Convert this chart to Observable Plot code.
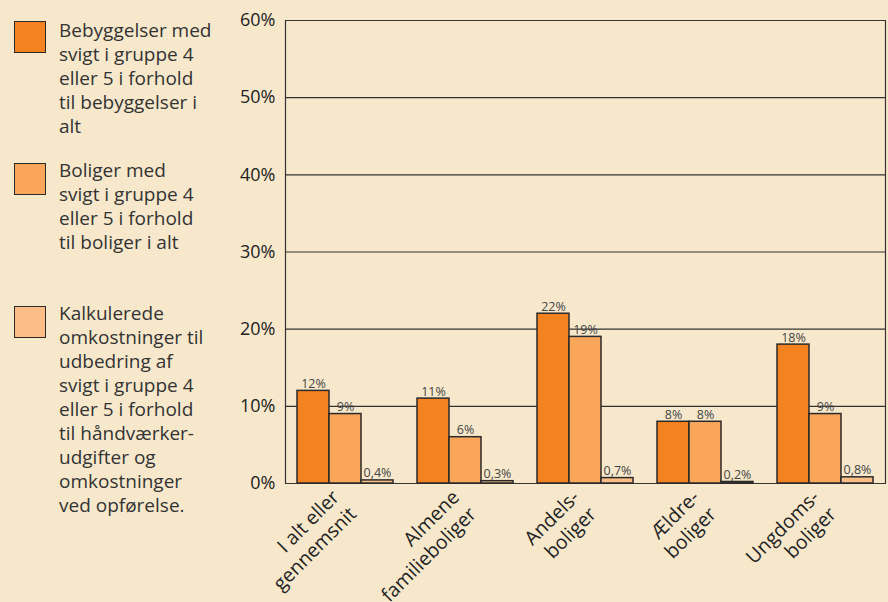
<!DOCTYPE html>
<html><head><meta charset="utf-8">
<script src="https://cdn.jsdelivr.net/npm/d3@7"></script>
<script src="https://cdn.jsdelivr.net/npm/@observablehq/plot@0.6"></script>
<style>
html,body{margin:0;padding:0;background:#F7E8CC;}
#wrap{position:relative;width:888px;height:602px;overflow:hidden;font-family:"Open Sans",sans-serif;color:#333;}
#chart{position:absolute;left:0;top:0;}
.item{position:absolute;left:14px;}
.sw{position:absolute;left:0;width:32px;height:32px;border:1.5px solid #2a2a2a;box-sizing:border-box;}
.lt{position:absolute;left:45px;top:0;font-size:19px;line-height:24px;white-space:nowrap;color:#333;}
</style>
</head><body>
<div id="wrap"><div id="chart"></div></div>
<script>
const categories = ["I alt eller\ngennemsnit", "Almene\nfamilieboliger", "Andels-\nboliger", "Ældre-\nboliger", "Ungdoms-\nboliger"];
const seriesNames = [
  "Bebyggelser med\nsvigt i gruppe 4\neller 5 i forhold\ntil bebyggelser i\nalt",
  "Boliger med\nsvigt i gruppe 4\neller 5 i forhold\ntil boliger i alt",
  "Kalkulerede\nomkostninger til\nudbedring af\nsvigt i gruppe 4\neller 5 i forhold\ntil håndværker-\nudgifter og\nomkostninger\nved opførelse."
];
const bebyggelser = [12, 11, 22, 8, 18];
const boliger = [9, 6, 19, 8, 9];
const omkostninger = [0.4, 0.3, 0.7, 0.2, 0.8];
const yTicks = [0, 10, 20, 30, 40, 50, 60];
const colors = ["#F58220", "#F9A65B", "#FCBE86"];

const valuesBySeries = [bebyggelser, boliger, omkostninger];
const data = categories.flatMap((c, i) => seriesNames.map((s, j) => ({cat: c, series: s, value: valuesBySeries[j][i]})));
const fmt = v => String(v).replace(".", ",") + "%";

const chart = Plot.plot({
  width: 888, height: 602,
  marginLeft: 284, marginRight: 3, marginTop: 20, marginBottom: 119,
  style: {background: "transparent", fontFamily: "Open Sans, sans-serif", color: "#333", overflow: "visible"},
  fx: {domain: categories, padding: 0, label: null},
  x: {domain: seriesNames, paddingInner: 0, paddingOuter: 0.375, axis: null},
  y: {domain: [0, 60]},
  color: {domain: seriesNames, range: colors},
  marks: [
    Plot.ruleY(yTicks, {stroke: "#333", strokeWidth: 1.2}),
    Plot.frame({anchor: "left", facetAnchor: "left", stroke: "#333", strokeWidth: 1.2}),
    Plot.frame({anchor: "right", facetAnchor: "right", stroke: "#333", strokeWidth: 1.2}),
    Plot.barY(data, {fx: "cat", x: "series", y: "value", fill: "series", stroke: "#2a2a2a", strokeWidth: 1.5}),
    Plot.text(data, {fx: "cat", x: "series", y: "value", text: d => fmt(d.value), lineAnchor: "bottom", dy: -3, fontSize: 12.5, fill: "#444"}),
    Plot.axisY(yTicks, {anchor: "left", tickSize: 0, tickPadding: 10, fontSize: 18, tickFormat: d => d + "%", label: null, fill: "#222"}),
    Plot.axisFx({anchor: "bottom", tickRotate: -45, tickSize: 0, tickPadding: 18, dx: -2, fontSize: 19.5, lineHeight: 1.22, label: null, fill: "#222"})
  ]
});
document.getElementById("chart").appendChild(chart);

const wrap = document.getElementById("wrap");
const itemTops = [18, 158, 301];
const swatchOffsets = [3, 5, 5];
seriesNames.forEach((s, j) => {
  const it = document.createElement("div");
  it.className = "item";
  it.style.top = itemTops[j] + "px";
  const sw = document.createElement("div");
  sw.className = "sw";
  sw.style.top = swatchOffsets[j] + "px";
  sw.style.background = colors[j];
  const lt = document.createElement("div");
  lt.className = "lt";
  lt.innerHTML = s.split("\n").join("<br>");
  it.appendChild(sw); it.appendChild(lt);
  wrap.appendChild(it);
});
</script>
</body></html>
